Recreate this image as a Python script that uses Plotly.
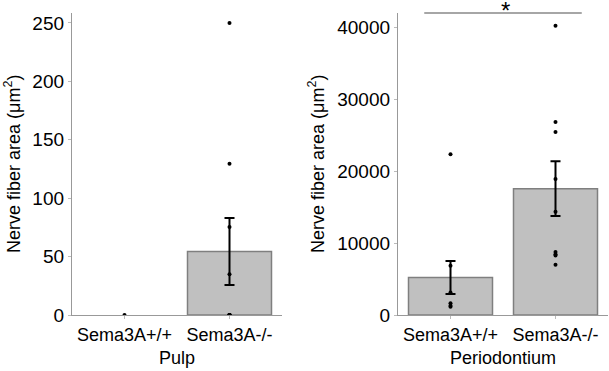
import plotly.graph_objects as go

# ---- data ----
categories = ["Sema3A+/+", "Sema3A-/-"]

pulp_mean = [0, 54.3]
pulp_sem = [0, 28.7]
pulp_points_wt = [0]
pulp_points_ko = [250, 129.5, 75.3, 34.8, 0, 0, 0, 0, 0]

perio_mean = [5230, 17590]
perio_sem = [2300, 3810]
perio_points_wt = [22370, 6870, 3150, 1650, 1300, 1150]
perio_points_ko = [40280, 26870, 25480, 18950, 14360, 8770, 8450, 8300, 7000]

pulp_range = [0, 258.5]
perio_range = [0, 42050]
pulp_ticks = [0, 50, 100, 150, 200, 250]
perio_ticks = [0, 10000, 20000, 30000, 40000]

y_title = "Nerve fiber area (μm<sup>2</sup>)"
FONT = "Liberation Sans, Arial, sans-serif"

fig = go.Figure()

def add_panel(xa, ya, means, sems, pts_wt, pts_ko):
    fig.add_trace(go.Bar(
        x=categories, y=means, width=0.8,
        marker=dict(color="#c0c0c0",
                    line=dict(color="#7f7f7f",
                              width=[1.5 if m > 0 else 0 for m in means])),
        xaxis=xa, yaxis=ya, showlegend=False, hoverinfo="skip"))
    px = [categories[0]] * len(pts_wt) + [categories[1]] * len(pts_ko)
    py = list(pts_wt) + list(pts_ko)
    fig.add_trace(go.Scatter(
        x=px, y=py, mode="markers",
        marker=dict(color="black", size=4),
        xaxis=xa, yaxis=ya, showlegend=False, hoverinfo="skip"))
    ex = [c for c, s in zip(categories, sems) if s > 0]
    ey = [m for m, s in zip(means, sems) if s > 0]
    es = [s for s in sems if s > 0]
    fig.add_trace(go.Scatter(
        x=ex, y=ey, mode="markers",
        marker=dict(color="black", size=1, opacity=0),
        error_y=dict(type="data", array=es, visible=True, color="black",
                     thickness=2, width=5),
        xaxis=xa, yaxis=ya, showlegend=False, hoverinfo="skip"))

add_panel("x", "y", pulp_mean, pulp_sem, pulp_points_wt, pulp_points_ko)
add_panel("x2", "y2", perio_mean, perio_sem, perio_points_wt, perio_points_ko)

W, H = 609, 371
T, B = 13, 56
plot_h = H - T - B
axis_line = dict(showline=True, linecolor="#999999", linewidth=1.3,
                 showgrid=False, zeroline=False, ticks="outside",
                 ticklen=3, tickcolor="#bbbbbb", tickwidth=1)

fig.update_layout(
    width=W, height=H,
    margin=dict(l=0, r=0, t=T, b=B),
    paper_bgcolor="white", plot_bgcolor="white",
    font=dict(family=FONT, color="black", size=18),
    xaxis=dict(domain=[72 / W, 282 / W], tickfont=dict(size=18),
               range=[-0.5, 1.5], **axis_line),
    yaxis=dict(domain=[0, 1], range=pulp_range, tickvals=pulp_ticks,
               tickformat="d", tickfont=dict(size=19), **axis_line),
    xaxis2=dict(domain=[398 / W, 608 / W], tickfont=dict(size=18),
                range=[-0.5, 1.5], anchor="y2", **axis_line),
    yaxis2=dict(domain=[0, 1], range=perio_range, tickvals=perio_ticks,
                tickformat="d", anchor="x2", tickfont=dict(size=19),
                **axis_line),
)

def py(pix):
    return (H - B - pix) / plot_h

# axis titles
fig.add_annotation(text=y_title, x=12 / W, y=py(164), xref="paper", yref="paper",
                   showarrow=False, textangle=-90, font=dict(size=18),
                   xanchor="center", yanchor="middle")
fig.add_annotation(text=y_title, x=316 / W, y=py(164), xref="paper", yref="paper",
                   showarrow=False, textangle=-90, font=dict(size=18),
                   xanchor="center", yanchor="middle")
fig.add_annotation(text="Pulp", x=177 / W, y=py(358), xref="paper", yref="paper",
                   showarrow=False, font=dict(size=18),
                   xanchor="center", yanchor="middle")
fig.add_annotation(text="Periodontium", x=503 / W, y=py(358), xref="paper",
                   yref="paper", showarrow=False, font=dict(size=18),
                   xanchor="center", yanchor="middle")

# significance bracket
fig.add_shape(type="line", xref="x2", yref="paper", x0=-0.25, x1=1.25,
              y0=1.0, y1=1.0, line=dict(color="#888888", width=1.5))
fig.add_annotation(text="*", xref="x2", yref="paper", x=0.52,
                   y=py(10), showarrow=False,
                   font=dict(size=24), xanchor="center", yanchor="middle")

fig.write_html("out.html",
               config={"displayModeBar": False},
               post_script="document.body.style.margin='0';")
